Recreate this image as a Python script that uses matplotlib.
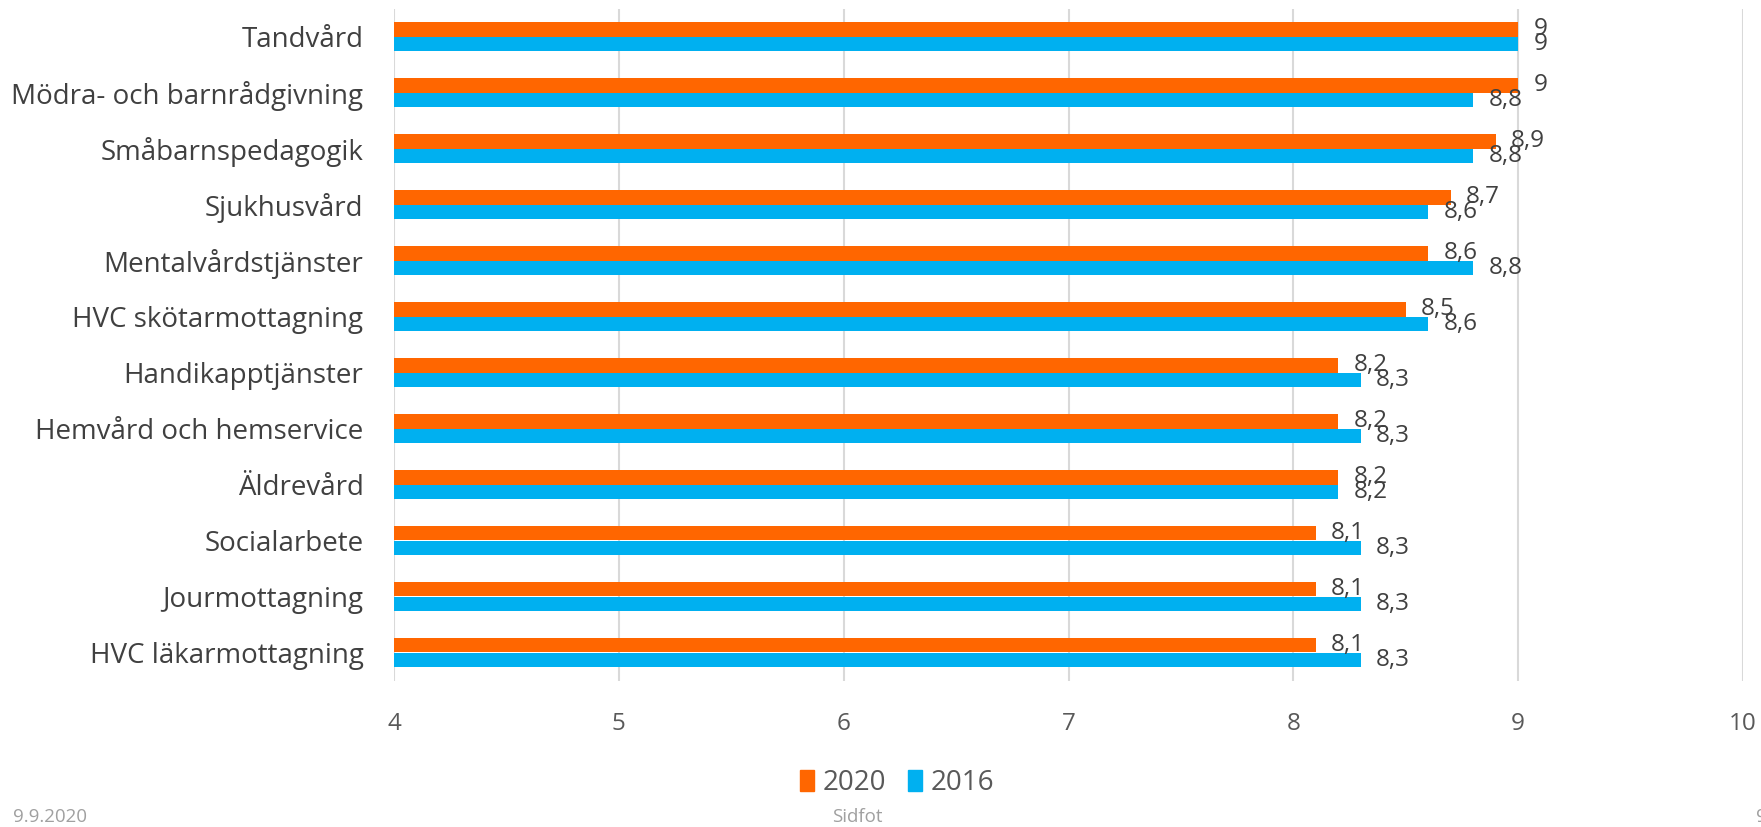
import numpy as np
import matplotlib
matplotlib.use("Agg")
import matplotlib.pyplot as plt
from matplotlib.patches import Patch

#=========================================================================
# data (top to bottom as shown)
#=========================================================================
categories = ["Tandvård", "Mödra- och barnrådgivning", "Småbarnspedagogik",
              "Sjukhusvård", "Mentalvårdstjänster", "HVC skötarmottagning",
              "Handikapptjänster", "Hemvård och hemservice", "Äldrevård",
              "Socialarbete", "Jourmottagning", "HVC läkarmottagning"]
values_2020 = [9, 9, 8.9, 8.7, 8.6, 8.5, 8.2, 8.2, 8.2, 8.1, 8.1, 8.1]
values_2016 = [9, 8.8, 8.8, 8.6, 8.8, 8.6, 8.3, 8.3, 8.2, 8.3, 8.3, 8.3]
series_names = ["2020", "2016"]
x_ticks = [4, 5, 6, 7, 8, 9, 10]

ORANGE = "#FF6600"
BLUE = "#00B0F0"
TEXT = "#404040"
TICK = "#595959"
GRID = "#D9D9D9"
FOOT = "#A0A0A0"

plt.rcParams['font.family'] = ['Open Sans', 'DejaVu Sans']

W, H = 1761, 827
fig = plt.figure(figsize=(W / 100, H / 100), dpi=100)
ax = fig.add_axes([394 / W, 1 - 680.5 / H, (1743 - 394) / W, (680.5 - 8.5) / H])

y = np.arange(len(categories))
bh = 0.26
ax.barh(y - bh / 2, values_2020, height=bh, color=ORANGE, zorder=3)
ax.barh(y + bh / 2, values_2016, height=bh, color=BLUE, zorder=3)


def fmt(v):
    return ("%g" % v).replace(".", ",")


for i in range(len(categories)):
    ax.annotate(fmt(values_2020[i]), (values_2020[i], y[i] - bh / 2),
                xytext=(11, 0), textcoords="offset points",
                ha="left", va="center", fontsize=17.5, color=TEXT, zorder=4)
    ax.annotate(fmt(values_2016[i]), (values_2016[i], y[i] + bh / 2),
                xytext=(11, 0), textcoords="offset points",
                ha="left", va="center", fontsize=17.5, color=TEXT, zorder=4)

ax.set_xlim(4, 10)
ax.set_ylim(len(categories) - 0.5, -0.5)
ax.set_xticks(x_ticks)
ax.set_xticklabels([str(t) for t in x_ticks])
ax.set_yticks(y)
ax.set_yticklabels(categories)
ax.tick_params(axis="x", length=0, pad=23, labelsize=17.5, labelcolor=TICK)
ax.tick_params(axis="y", length=0, pad=22, labelsize=20, labelcolor=TEXT)
ax.grid(axis="x", color=GRID, linewidth=1.5, zorder=0)
for s in ax.spines.values():
    s.set_visible(False)

handles = [Patch(color=ORANGE), Patch(color=BLUE)]
fig.legend(handles, series_names, loc="center", bbox_to_anchor=(897 / W, 1 - 783 / H),
           ncol=2, frameon=False, fontsize=20, labelcolor=TICK,
           handlelength=0.5, handleheight=0.8, handletextpad=0.3, columnspacing=0.8)

fig.text(13 / W, 1 - 817 / H, "9.9.2020", fontsize=13.5, color=FOOT, va="center", ha="left")
fig.text(857 / W, 1 - 817 / H, "Sidfot", fontsize=13.5, color=FOOT, va="center", ha="center")
fig.text(1756 / W, 1 - 817 / H, "9", fontsize=13.5, color=FOOT, va="center", ha="left")

fig.savefig("out.png", dpi=100)
